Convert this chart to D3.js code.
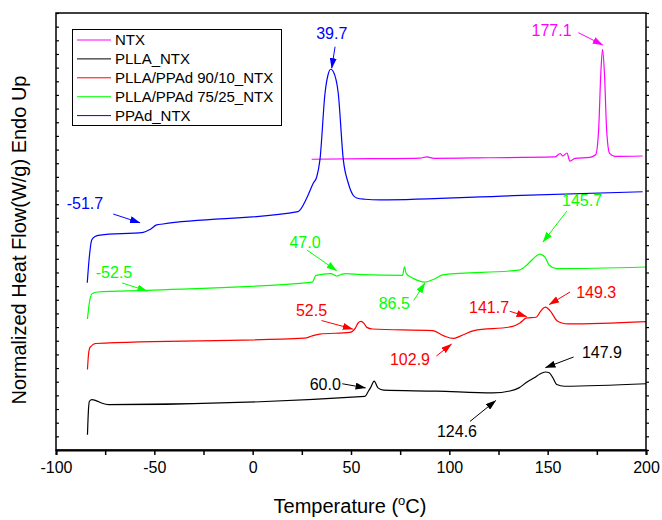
<!DOCTYPE html>
<html lang="en">
<head>
<meta charset="utf-8">
<title>DSC heating curves</title>
<script src="https://d3js.org/d3.v7.min.js"></script>
<style>
  body { margin: 0; background: #fff; }
  text { font-family: "Liberation Sans", Arial, sans-serif; }
  .curve { fill: none; stroke-width: 1.2px; }
</style>
</head>
<body>
<script>
// series names (legend order) and colours
var seriesNames = ["NTX", "PLLA_NTX", "PLLA/PPAd 90/10_NTX", "PLLA/PPAd 75/25_NTX", "PPAd_NTX"];
var seriesColors = ["#ff00ff", "#000000", "#ff0000", "#00ff00", "#0000ff"];

// NTX
var ntxT = [30.0, 60, 85.1, 88.6, 92.2, 120, 153.7, 156.3, 157.8, 159.8, 161.3, 163.9, 171.5, 174.4, 175.9, 177.0, 177.9, 178.9, 180.0, 181.5, 184.2, 198.3];
var ntxV = [21.29, 21.33, 21.38, 21.46, 21.36, 21.40, 21.46, 21.71, 21.53, 21.75, 21.16, 21.35, 21.43, 21.62, 23.4, 27.5, 29.34, 27.5, 23.4, 21.72, 21.50, 21.53];

// PLLA_NTX (black)
var pllaT = [-84.0, -83.5, -83.0, -81.7, -79.7, -76.9, -73.1, 57.1, 58.6, 59.9, 61.8, 63.7, 66.6, 93.4, 122.1, 130.8, 135.4, 139.5, 143.2, 146.1, 148.9, 150.8, 152.7, 154.6, 158.5, 200];
var pllaV = [1.11, 2.93, 3.57, 3.69, 3.62, 3.44, 3.32, 3.93, 4.25, 4.55, 5.05, 4.55, 4.38, 4.31, 4.18, 4.32, 4.55, 4.98, 5.29, 5.57, 5.71, 5.66, 5.27, 4.80, 4.67, 4.85];

// PLLA/PPAd 90/10_NTX (red)
var b90T = [-84.0, -83.5, -82.7, -79.8, 26.4, 30.3, 34.1, 49.4, 52.2, 53.6, 55.1, 56.7, 58.0, 60.9, 91.5, 97.2, 102.0, 105.8, 112.5, 131.7, 135.9, 139.3, 144.1, 146.1, 147.6, 148.9, 150.4, 151.8, 154.6, 157.3, 160.3, 200];
var b90V = [5.90, 6.96, 7.51, 7.80, 8.19, 8.36, 8.49, 8.61, 8.93, 9.30, 9.42, 9.26, 8.98, 8.86, 8.74, 8.36, 8.17, 8.36, 8.74, 9.03, 9.30, 9.67, 9.72, 10.09, 10.36, 10.46, 10.33, 10.09, 9.48, 9.30, 9.23, 9.40];

// PLLA/PPAd 75/25_NTX (green)
var b75T = [-84.0, -83.2, -81.7, -78.8, -53.9, 30.3, 32.2, 39.8, 42.7, 44.9, 47.5, 55.1, 76.2, 77.2, 78.1, 81.9, 87.6, 91.5, 97.2, 135.4, 139.3, 142.5, 146.0, 148.6, 150.8, 154.6, 200];
var b75V = [9.59, 10.62, 11.44, 11.57, 11.69, 12.30, 12.79, 12.92, 12.74, 12.85, 12.92, 12.84, 12.79, 13.41, 12.92, 12.55, 12.30, 12.47, 12.84, 13.17, 13.53, 13.99, 14.35, 14.13, 13.53, 13.28, 13.40];

// PPAd_NTX (blue)
var ppadT = [-84.1, -83.2, -81.85, -80.2, -77.6, -55.6, -52.2, -48.8, -45.6, 23.05, 27.5, 30.8, 32.6, 34.2, 36.8, 38.3, 39.7, 41.1, 43.5, 46.1, 48.6, 51.0, 52.9, 57.1, 64.7, 132.4, 198.3];
var ppadV = [12.25, 13.91, 15.38, 15.63, 15.74, 15.94, 16.15, 16.48, 16.55, 17.45, 18.45, 19.53, 20.01, 21.24, 26.14, 27.46, 27.88, 27.68, 26.14, 21.24, 19.55, 18.67, 18.45, 18.36, 18.31, 18.62, 18.91];

// peak annotations: label, colour, label position, arrow start, arrow end (T, value)
var annLabels = ["39.7", "177.1", "-51.7", "47.0", "-52.5", "86.5", "145.7", "52.5", "102.9", "141.7", "149.3", "60.0", "147.9", "124.6"];
var annColors = ["#0000ff", "#ff00ff", "#0000ff", "#00ff00", "#00ff00", "#00ff00", "#00ff00", "#ff0000", "#ff0000", "#ff0000", "#ff0000", "#000000", "#000000", "#000000"];
var annText = [[40.2, 30.54], [152.0, 30.76], [-85.3, 18.07], [26.6, 15.25], [-70.5, 13.03], [72.0, 10.75], [167.5, 18.31], [29.9, 10.26], [80.0, 6.64], [120.2, 10.46], [174.7, 11.57], [36.9, 4.85], [177.6, 7.13], [103.9, 1.35]];
var annFrom = [[41.9, 29.53], [165.6, 30.56], [-70.9, 17.28], [27.5, 14.65], [-66.4, 12.23], [81.9, 10.95], [159.8, 17.50], [35.0, 9.48], [93.4, 6.88], [130.7, 10.16], [161.4, 11.57], [45.6, 4.85], [163.2, 6.81], [110.5, 2.09]];
var annTo = [[40.2, 27.96], [178.0, 29.66], [-57.3, 16.64], [42.7, 13.13], [-53.6, 11.64], [87.6, 12.23], [147.6, 15.23], [50.9, 8.86], [101.1, 7.75], [139.3, 9.77], [150.8, 10.65], [57.4, 4.55], [148.9, 6.03], [123.6, 3.62]];

var xTicks = [-100, -50, 0, 50, 100, 150, 200];

var w = 662, h = 520;
var plotL = 56, plotR = 646, plotT = 13, plotB = 450;

var x = d3.scaleLinear().domain([-100, 200]).range([plotL, plotR]);
var y = d3.scaleLinear().domain([0, 32]).range([plotB, plotT]);

var svg = d3.select("body").append("svg")
    .attr("width", w)
    .attr("height", h);

// arrow markers, one per colour
var defs = svg.append("defs");
d3.union(annColors).forEach(function(c) {
    defs.append("marker")
        .attr("id", "arr" + c.slice(1))
        .attr("markerUnits", "userSpaceOnUse")
        .attr("markerWidth", 11).attr("markerHeight", 7)
        .attr("refX", 10).attr("refY", 3.5)
        .attr("orient", "auto")
      .append("path")
        .attr("d", "M0,0L10.5,3.5L0,7Z")
        .attr("fill", c);
});

// curves
var seriesT = [ntxT, pllaT, b90T, b75T, ppadT];
var seriesV = [ntxV, pllaV, b90V, b75V, ppadV];
var line = d3.line()
    .x(function(d) { return x(d[0]); })
    .y(function(d) { return y(d[1]); })
    .curve(d3.curveMonotoneX);

seriesT.forEach(function(ts, i) {
    svg.append("path")
        .attr("class", "curve")
        .attr("d", line(ts.map(function(t, j) { return [t, seriesV[i][j]]; })))
        .attr("stroke", seriesColors[i]);
});

// annotations
annLabels.forEach(function(lab, i) {
    svg.append("line")
        .attr("x1", x(annFrom[i][0])).attr("y1", y(annFrom[i][1]))
        .attr("x2", x(annTo[i][0])).attr("y2", y(annTo[i][1]))
        .attr("stroke", annColors[i])
        .attr("stroke-width", 1)
        .attr("marker-end", "url(#arr" + annColors[i].slice(1) + ")");
    svg.append("text")
        .attr("x", x(annText[i][0])).attr("y", y(annText[i][1]))
        .attr("dy", "0.36em")
        .attr("text-anchor", "middle")
        .attr("font-size", 16)
        .attr("fill", annColors[i])
        .text(lab);
});

// frame
svg.append("rect")
    .attr("x", plotL).attr("y", plotT)
    .attr("width", plotR - plotL).attr("height", plotB - plotT)
    .attr("fill", "none").attr("stroke", "#000").attr("stroke-width", 1.5);

// x axis
var xAxis = d3.axisBottom(x)
    .tickValues(d3.range(-100, 201, 25))
    .tickSize(5)
    .tickFormat(function(d) { return xTicks.indexOf(d) >= 0 ? d : ""; });
var gx = svg.append("g").attr("transform", "translate(0," + plotB + ")").call(xAxis);
gx.select(".domain").attr("stroke-width", 2);
gx.selectAll(".tick line").attr("stroke-width", 1.5);
gx.selectAll(".tick text")
    .attr("font-family", "Liberation Sans, Arial, sans-serif")
    .attr("font-size", 16).attr("y", 12).attr("dy", "0.71em").attr("fill", "#000");

// y ticks, no labels
var gyl = svg.append("g").attr("transform", "translate(" + plotL + ",0)")
    .call(d3.axisRight(y).ticks(32).tickSize(3).tickFormat(""));
var gyr = svg.append("g").attr("transform", "translate(" + plotR + ",0)")
    .call(d3.axisRight(y).ticks(32).tickSize(3).tickFormat(""));
[gyl, gyr].forEach(function(g) {
    g.select(".domain").remove();
    g.selectAll(".tick line").attr("stroke-width", 1.2);
});

// axis titles
var xt = svg.append("text")
    .attr("x", 350).attr("y", 513)
    .attr("text-anchor", "middle")
    .attr("font-size", 20);
xt.append("tspan").text("Temperature (");
xt.append("tspan").attr("font-size", 13).attr("dy", -8).text("o");
xt.append("tspan").attr("dy", 8).text("C)");

svg.append("text")
    .attr("transform", "translate(26,240) rotate(-90)")
    .attr("text-anchor", "middle")
    .attr("font-size", 20)
    .text("Normalized Heat Flow(W/g) Endo Up");

// legend
var lg = svg.append("g");
lg.append("rect")
    .attr("x", 72.5).attr("y", 29.5).attr("width", 209).attr("height", 96)
    .attr("fill", "#fff").attr("stroke", "#000").attr("stroke-width", 1);
seriesNames.forEach(function(n, i) {
    var yy = 40 + i * 18.9;
    lg.append("line")
        .attr("x1", 77).attr("x2", 111).attr("y1", yy).attr("y2", yy)
        .attr("stroke", seriesColors[i]).attr("stroke-width", 1);
    lg.append("text")
        .attr("x", 115).attr("y", yy).attr("dy", "0.36em")
        .attr("font-size", 15)
        .text(n);
});
</script>
</body>
</html>
